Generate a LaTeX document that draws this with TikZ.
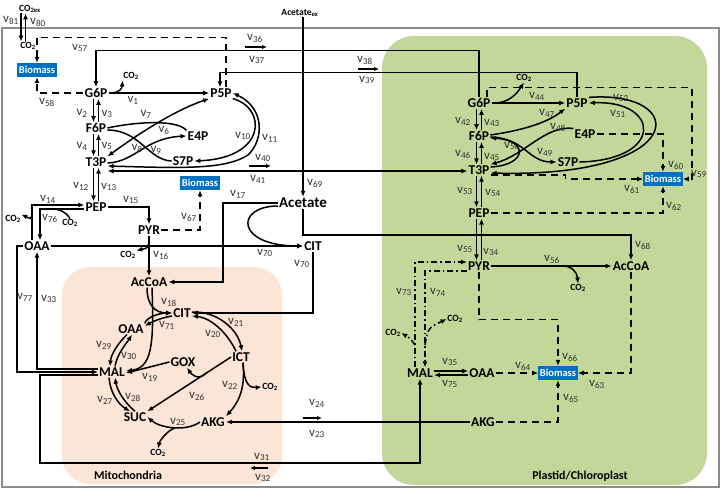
\documentclass[tikz,border=0pt]{standalone}
\usepackage{fontspec}
\setmainfont{Carlito}
\usepackage{tikz}
\usetikzlibrary{arrows.meta}
\usetikzlibrary{calc}
\usetikzlibrary{positioning}
\definecolor{bioblue}{HTML}{0070C0}
\definecolor{mitofill}{HTML}{FBE5D6}
\definecolor{plastidfill}{HTML}{C4D79B}
\newcommand{\fv}[1]{v\textsubscript{#1}}
\newcommand{\coo}{CO\textsubscript{2}}

\begin{document}
\begin{tikzpicture}
    [x=1pt, y=-1pt,
     met/.style={font=\bfseries\fontsize{13.5}{15}\selectfont, inner sep=1pt},
     bio/.style={fill=bioblue, text=white, inner sep=1.5pt, minimum height=14pt,
       font=\bfseries\fontsize{10.5}{12}\selectfont},
     gas/.style={font=\bfseries\fontsize{9.5}{11}\selectfont, inner sep=0.5pt},
     lbl/.style={font=\fontsize{13}{14}\selectfont, text=black!80, inner sep=0pt},
     region/.style={font=\bfseries\fontsize{12}{14}\selectfont},
     plain/.style={line width=1.5pt},
     flux/.style={plain, -{Latex[length=6pt,width=5pt]}},
     twoway/.style={plain, {Latex[length=6pt,width=5pt]}-{Latex[length=6pt,width=5pt]}},
     tobio/.style={flux, dash pattern=on 7pt off 5pt},
     dashdot/.style={flux, dash pattern=on 6pt off 3pt on 1.5pt off 3pt},
     dirarr/.style={line width=1.3pt, -{Latex[length=5pt,width=4.5pt]}}]

    \useasboundingbox (0,0) rectangle (721,491);
    \fill [mitofill, rounded corners=28pt] (62,267) rectangle (282,484);
    \fill [plastidfill, rounded corners=32pt] (382,36) rectangle (707,485);
    \draw [black!45, line width=1.5pt] (2,28) rectangle (719,487);

    \node (mito) [region] at (128,475) {Mitochondria};
    \node (plast) [region] at (580,476) {Plastid/Chloroplast};

    \node (co2ex) [gas] at (30,9) {CO\textsubscript{2ex}};
    \node (co2c) [gas] at (28,46) {\coo};
    \node (bioA) [bio] at (37,70) {Biomass};
    \node (g6p) [met] at (96,93) {G6P};
    \node (co2a) [gas] at (131,76) {\coo};
    \node (p5p) [met] at (221,93) {P5P};
    \node (f6p) [met] at (96,128) {F6P};
    \node (e4p) [met] at (198,136) {E4P};
    \node (t3p) [met] at (96,162) {T3P};
    \node (s7p) [met] at (183,161) {S7P};
    \node (bioB) [bio] at (200,183) {Biomass};
    \node (pep) [met] at (96,207) {PEP};
    \node (co2b) [gas] at (13,219) {\coo};
    \node (co2d) [gas] at (70,223) {\coo};
    \node (pyr) [met] at (149,230) {PYR};
    \node (oaa) [met] at (37,246) {OAA};
    \node (co2e) [gas] at (128,255) {\coo};
    \node (accoa) [met] at (149,282) {AcCoA};
    \node (acetex) [gas] at (300,13) {Acetate\textsubscript{ex}};
    \node (acet) [met, font=\bfseries\fontsize{15}{17}\selectfont] at (303,203) {Acetate};
    \node (cit) [met] at (313,246) {CIT};

    \node (citm) [met] at (182,313) {CIT};
    \node (oaam) [met] at (131,329) {OAA};
    \node (malm) [met] at (112,372) {MAL};
    \node (gox) [met] at (183,362) {GOX};
    \node (ict) [met] at (241,357) {ICT};
    \node (suc) [met] at (135,417) {SUC};
    \node (akgm) [met] at (213,422) {AKG};
    \node (co2f) [gas] at (158,453) {\coo};
    \node (co2g) [gas] at (270,387) {\coo};

    \node (g6pc) [met] at (479,103) {G6P};
    \node (p5pc) [met] at (577,103) {P5P};
    \node (co2h) [gas] at (524,78) {\coo};
    \node (f6pc) [met] at (479,136) {F6P};
    \node (e4pc) [met] at (585,134) {E4P};
    \node (s7pc) [met] at (568,162) {S7P};
    \node (t3pc) [met] at (479,170) {T3P};
    \node (bioC) [bio] at (663,179) {Biomass};
    \node (pepc) [met] at (479,213) {PEP};
    \node (pyrc) [met] at (479,266) {PYR};
    \node (accoac) [met] at (631,266) {AcCoA};
    \node (co2i) [gas] at (578,288) {\coo};
    \node (co2j) [gas] at (393,333) {\coo};
    \node (co2k) [gas] at (455,319) {\coo};
    \node (malc) [met] at (420,373) {MAL};
    \node (oaac) [met] at (482,373) {OAA};
    \node (bioD) [bio] at (558,373) {Biomass};
    \node (akgc) [met] at (483,422) {AKG};

    \coordinate (b1) at (110,93);
    \coordinate (b14) at (32,214);
    \coordinate (b76) at (52,209);
    \coordinate (b16) at (149,243);
    \coordinate (b25) at (175,428);
    \coordinate (b44) at (494,103);
    \coordinate (b56) at (562,266);
    \coordinate (b73) at (415,345);
    \coordinate (b74) at (425,345);

    \draw [flux] ([xshift=-9pt]co2ex.south) -- ([xshift=-7pt]co2c.north);
    \draw [flux] ([xshift=-2.5pt]co2c.north) -- ([xshift=-4.5pt]co2ex.south);
    \draw [tobio] ([xshift=5pt]p5p.north) -- ++(0,-50) -| (bioA.north);
    \draw [tobio] (g6p.west) -| (bioA.south);
    \draw [flux] (g6pc.north) -- ++(0,-46.6) -| (g6p.north);
    \draw [flux] (p5pc.north) -- ++(0,-25) -| ([xshift=-1pt]p5p.north);

    \draw [flux] (g6p.east) -- (p5p.west);
    \draw [flux] (b1) .. controls (120,93) and (122,88) .. (co2a.south west);
    \draw [flux] ([xshift=-2.5pt]g6p.south) -- ([xshift=-2.5pt]f6p.north);
    \draw [flux] ([xshift=2.5pt]f6p.north) -- ([xshift=2.5pt]g6p.south);
    \draw [flux] ([xshift=-2.5pt]f6p.south) -- ([xshift=-2.5pt]t3p.north);
    \draw [flux] ([xshift=2.5pt]t3p.north) -- ([xshift=2.5pt]f6p.south);
    \draw [flux] ([xshift=-2.5pt]t3p.south) -- ([xshift=-2.5pt]pep.north);
    \draw [flux] ([xshift=2.5pt]pep.north) -- ([xshift=2.5pt]t3p.south);

    \draw [plain] (f6p.east) .. controls (140,121) and (178,120) .. (e4p.north west);
    \draw [plain] ([yshift=-2pt]f6p.east) .. controls (140,130) and (148,160) .. (s7p.west);
    \draw [twoway] (t3p.north east) .. controls (130,140) and (170,112) .. (p5p.south west);
    \draw [flux] ([yshift=-1pt]t3p.east) .. controls (135,162) and (145,138) .. (e4p.west);
    \draw [flux] (p5p.south east) .. controls (267,108) and (267,158) .. (s7p.east);
    \draw [twoway] ([yshift=-4pt]t3p.east) .. controls (180,168) and (225,170) .. (248,155)
      .. controls (264,140) and (265,108) .. (p5p.east);
    \draw [twoway] ([yshift=-9pt]t3p.east) -- ([yshift=-1pt]t3pc.west);

    \draw [flux] ([xshift=-5pt]oaa.north) |- ([yshift=2pt]pep.west);
    \draw [flux] (b14) .. controls (31,219) .. (co2b.north east);
    \draw [flux] ([yshift=-2pt]pep.west) -| ([xshift=3pt]oaa.north);
    \draw [plain] (co2d.north) .. controls (66,212) and (60,209) .. (b76);
    \draw [flux] (pep.east) -| (pyr.north);
    \draw [tobio] (pyr.east) -| (bioB.south);
    \draw [flux] (pyr.south) -- (accoa.north);
    \draw [flux] (b16) .. controls (149,249) and (143,249) .. (co2e.north east);
    \draw [flux] (acet.west) -- ++(-55,0) |- (accoa.east);
    \draw [flux] (acetex.south -| acet.north) -- (acet.north);
    \draw [flux] (acet.south) -- ++(0,26) -| (accoac.north);
    \draw [flux] ([yshift=-3pt]acet.west) .. controls (235,206) and (235,246) .. (cit.west);
    \draw [flux] (oaa.east) -- (cit.west);
    \draw [flux] (cit.south) |- (citm.east);

    \draw [flux] ([xshift=-2pt]accoa.south) .. controls (147,305) and (155,313) .. (citm.west);
    \draw [flux] (oaam.north east) .. controls (146,318) and (158,313) .. (citm.west);
    \draw [flux] ([yshift=-3pt]citm.west) .. controls (160,318) and (152,322) .. ([yshift=3pt]oaam.east);
    \draw [flux] ([xshift=3pt]accoa.south) .. controls (154,345) and (152,368) .. ([yshift=1pt]malm.east);
    \draw [flux] (gox.west) -- ([yshift=-1pt]malm.east);
    \draw [flux] ([xshift=-4pt]oaam.south) .. controls (119,342) and (111,354) .. ([xshift=-2pt]malm.north);
    \draw [flux] ([xshift=3pt]malm.north) .. controls (117,354) and (126,344) .. ([xshift=1pt]oaam.south);
    \draw [flux] ([yshift=1pt]citm.east) .. controls (218,311) and (238,330) .. ([xshift=1pt]ict.north);
    \draw [flux] ([xshift=-5pt]ict.north) .. controls (228,334) and (212,318) .. ([yshift=-3pt]citm.east);
    \draw [flux] (ict.west) -- (suc.north east);
    \draw [flux] ($(ict.west)!0.3!(suc.north east)$) .. controls +(-8,8) and +(4,6) .. ([xshift=4pt]gox.south);
    \draw [flux] ([xshift=2pt]ict.south) .. controls (246,392) and (236,405) .. (akgm.north east);
    \draw [flux] ([xshift=2pt]ict.south) .. controls (244,385) and (250,388) .. (co2g.west);
    \draw [flux] (akgm.west) .. controls (186,432) and (160,428) .. (suc.east);
    \draw [flux] (b25) .. controls (168,430) and (160,440) .. (co2f.north);
    \draw [flux] ([xshift=-3pt]malm.south) .. controls (110,392) and (118,404) .. ([xshift=-5pt]suc.north);
    \draw [flux] (suc.north) .. controls (124,402) and (117,390) .. ([xshift=3pt]malm.south);

    \draw [flux] (akgc.west) -- (akgm.east);
    \draw [flux] ([yshift=-3pt]malm.west) -| (40,463) -| (malc.south);
    \draw [flux] (oaa.west) -- ++(-6,0) |- (malm.west);
    \draw [flux] ([yshift=3pt]malm.west) -| (oaa.south);

    \draw [flux] (g6pc.east) -- (p5pc.west);
    \draw [flux] (b44) .. controls (508,103) and (516,95) .. (co2h.south);
    \draw [flux] ([xshift=-2.5pt]g6pc.south) -- ([xshift=-2.5pt]f6pc.north);
    \draw [flux] ([xshift=2.5pt]f6pc.north) -- ([xshift=2.5pt]g6pc.south);
    \draw [flux] ([xshift=-2.5pt]f6pc.south) -- ([xshift=-2.5pt]t3pc.north);
    \draw [flux] ([xshift=2.5pt]t3pc.north) -- ([xshift=2.5pt]f6pc.south);
    \draw [flux] ([xshift=-2.5pt]t3pc.south) -- ([xshift=-2.5pt]pepc.north);
    \draw [flux] ([xshift=2.5pt]pepc.north) -- ([xshift=2.5pt]t3pc.south);
    \draw [flux] ([xshift=-2.5pt]pepc.south) -- ([xshift=-2.5pt]pyrc.north);
    \draw [flux] ([xshift=2.5pt]pyrc.north) -- ([xshift=2.5pt]pepc.south);

    \draw [flux] ([yshift=1pt]f6pc.east) .. controls (525,130) and (548,122) .. (p5pc.south west);
    \draw [flux] (e4pc.north west) .. controls (545,125) and (525,155) .. (t3pc.north east);
    \draw [flux] ([yshift=3pt]t3pc.east) .. controls (528,165) and (528,140) .. ([yshift=-2pt]f6pc.east);
    \draw [flux] ([yshift=-1pt]f6pc.east) .. controls (525,138) and (528,162) .. (s7pc.west);
    \draw [flux] (s7pc.east) .. controls (665,160) and (660,100) .. (p5pc.east);
    \draw [flux] (p5pc.north east) .. controls (690,90) and (690,178) .. ([yshift=-3pt]t3pc.east);

    \draw [tobio] ([xshift=8pt]g6pc.north) -- ++(0,-9.6) -- ++(205,0) |- (bioC.east);
    \draw [tobio] (e4pc.east) -| (bioC.north);
    \draw [tobio] ([yshift=-5pt]t3pc.east) -- ++(75,0) |- (bioC.west);
    \draw [tobio] (pepc.east) -| (bioC.south);
    \draw [flux] (pyrc.east) -- (accoac.west);
    \draw [flux] (b56) .. controls (572,266) and (577,272) .. (co2i.north);
    \draw [tobio] (pyrc.south) -- ++(0,48) -| (bioD.north);
    \draw [tobio] (accoac.south) |- (bioD.east);
    \draw [tobio] (oaac.east) -- (bioD.west);
    \draw [tobio] (akgc.east) -| (bioD.south);
    \draw [flux] ([yshift=2pt]malc.east) -- ([yshift=2pt]oaac.west);
    \draw [flux] ([yshift=-2pt]oaac.west) -- ([yshift=-2pt]malc.east);
    \draw [dashdot] ([xshift=-5pt]malc.north) |- ([yshift=4pt]pyrc.west);
    \draw [dashdot] ([yshift=-5pt]pyrc.west) -| ([xshift=5pt]malc.north);
    \draw [dashdot] (b73) .. controls (410,338) .. (co2j.east);
    \draw [dashdot] (b74) .. controls (428,328) .. (co2k.west);

    \node (l81) [lbl] at (11,20) {\fv{81}};
    \node (l80) [lbl] at (38,22) {\fv{80}};
    \node (l57) [lbl] at (80,48) {\fv{57}};
    \node (l58) [lbl] at (47,102) {\fv{58}};
    \node (l1) [lbl] at (133,100) {\fv{1}};
    \node (l2) [lbl] at (82,113) {\fv{2}};
    \node (l3) [lbl] at (107,114) {\fv{3}};
    \node (l4) [lbl] at (82,146) {\fv{4}};
    \node (l5) [lbl] at (107,146) {\fv{5}};
    \node (l7) [lbl] at (146,114) {\fv{7}};
    \node (l6) [lbl] at (164,130) {\fv{6}};
    \node (l8) [lbl] at (137,148) {\fv{8}};
    \node (l9) [lbl] at (156,150) {\fv{9}};
    \node (l10) [lbl] at (243,136) {\fv{10}};
    \node (l11) [lbl] at (270,138) {\fv{11}};
    \node (l36) [lbl] at (255,38) {\fv{36}};
    \node (l37) [lbl] at (257,60) {\fv{37}};
    \node (l38) [lbl] at (365,60) {\fv{38}};
    \node (l39) [lbl] at (367,80) {\fv{39}};
    \node (l40) [lbl] at (263,158) {\fv{40}};
    \node (l41) [lbl] at (258,179) {\fv{41}};
    \node (l12) [lbl] at (81,186) {\fv{12}};
    \node (l13) [lbl] at (109,187) {\fv{13}};
    \node (l14) [lbl] at (48,199) {\fv{14}};
    \node (l76) [lbl] at (50,218) {\fv{76}};
    \node (l15) [lbl] at (131,200) {\fv{15}};
    \node (l67) [lbl] at (189,217) {\fv{67}};
    \node (l16) [lbl] at (161,255) {\fv{16}};
    \node (l17) [lbl] at (238,194) {\fv{17}};
    \node (l69) [lbl] at (315,183) {\fv{69}};
    \node (l70a) [lbl] at (265,253) {\fv{70}};
    \node (l70b) [lbl] at (302,264) {\fv{70}};
    \node (l77) [lbl] at (25,297) {\fv{77}};
    \node (l33) [lbl] at (49,299) {\fv{33}};

    \node (l18) [lbl] at (169,302) {\fv{18}};
    \node (l71) [lbl] at (167,325) {\fv{71}};
    \node (l29) [lbl] at (104,345) {\fv{29}};
    \node (l30) [lbl] at (129,356) {\fv{30}};
    \node (l19) [lbl] at (150,377) {\fv{19}};
    \node (l21) [lbl] at (236,322) {\fv{21}};
    \node (l20) [lbl] at (213,334) {\fv{20}};
    \node (l26) [lbl] at (197,396) {\fv{26}};
    \node (l22) [lbl] at (230,385) {\fv{22}};
    \node (l27) [lbl] at (105,400) {\fv{27}};
    \node (l28) [lbl] at (133,397) {\fv{28}};
    \node (l25) [lbl] at (178,422) {\fv{25}};
    \node (l24) [lbl] at (317,403) {\fv{24}};
    \node (l23) [lbl] at (317,434) {\fv{23}};
    \node (l31) [lbl] at (262,457) {\fv{31}};
    \node (l32) [lbl] at (263,478) {\fv{32}};

    \node (l42) [lbl] at (463,121) {\fv{42}};
    \node (l43) [lbl] at (492,123) {\fv{43}};
    \node (l46) [lbl] at (463,154) {\fv{46}};
    \node (l45) [lbl] at (492,157) {\fv{45}};
    \node (l53) [lbl] at (465,191) {\fv{53}};
    \node (l54) [lbl] at (493,193) {\fv{54}};
    \node (l55) [lbl] at (465,249) {\fv{55}};
    \node (l34) [lbl] at (491,252) {\fv{34}};
    \node (l44) [lbl] at (537,96) {\fv{44}};
    \node (l47) [lbl] at (547,113) {\fv{47}};
    \node (l48) [lbl] at (558,127) {\fv{48}};
    \node (l50) [lbl] at (512,146) {\fv{50}};
    \node (l49) [lbl] at (545,152) {\fv{49}};
    \node (l52) [lbl] at (621,98) {\fv{52}};
    \node (l51) [lbl] at (618,114) {\fv{51}};
    \node (l59) [lbl] at (699,174) {\fv{59}};
    \node (l60) [lbl] at (676,165) {\fv{60}};
    \node (l61) [lbl] at (632,189) {\fv{61}};
    \node (l62) [lbl] at (674,206) {\fv{62}};
    \node (l68) [lbl] at (643,245) {\fv{68}};
    \node (l56) [lbl] at (552,259) {\fv{56}};
    \node (l66) [lbl] at (570,357) {\fv{66}};
    \node (l63) [lbl] at (597,384) {\fv{63}};
    \node (l64) [lbl] at (523,366) {\fv{64}};
    \node (l65) [lbl] at (571,398) {\fv{65}};
    \node (l35) [lbl] at (450,362) {\fv{35}};
    \node (l75) [lbl] at (450,384) {\fv{75}};
    \node (l73) [lbl] at (404,292) {\fv{73}};
    \node (l74) [lbl] at (438,292) {\fv{74}};

    \draw [dirarr] ([xshift=-10pt,yshift=-9pt]l36.center) -- ++(22,0);
    \draw [dirarr] ([xshift=-7pt,yshift=-9pt]l38.center) -- ++(21,0);
    \draw [dirarr] ([xshift=-14pt,yshift=-8pt]l40.center) -- ++(22,0);
    \draw [dirarr] ([xshift=-14pt,yshift=-15pt]l24.center) -- ++(19,0);
    \draw [dirarr] ([xshift=6pt,yshift=-11pt]l31.center) -- ++(-18,0);
  \end{tikzpicture}
\end{document}
